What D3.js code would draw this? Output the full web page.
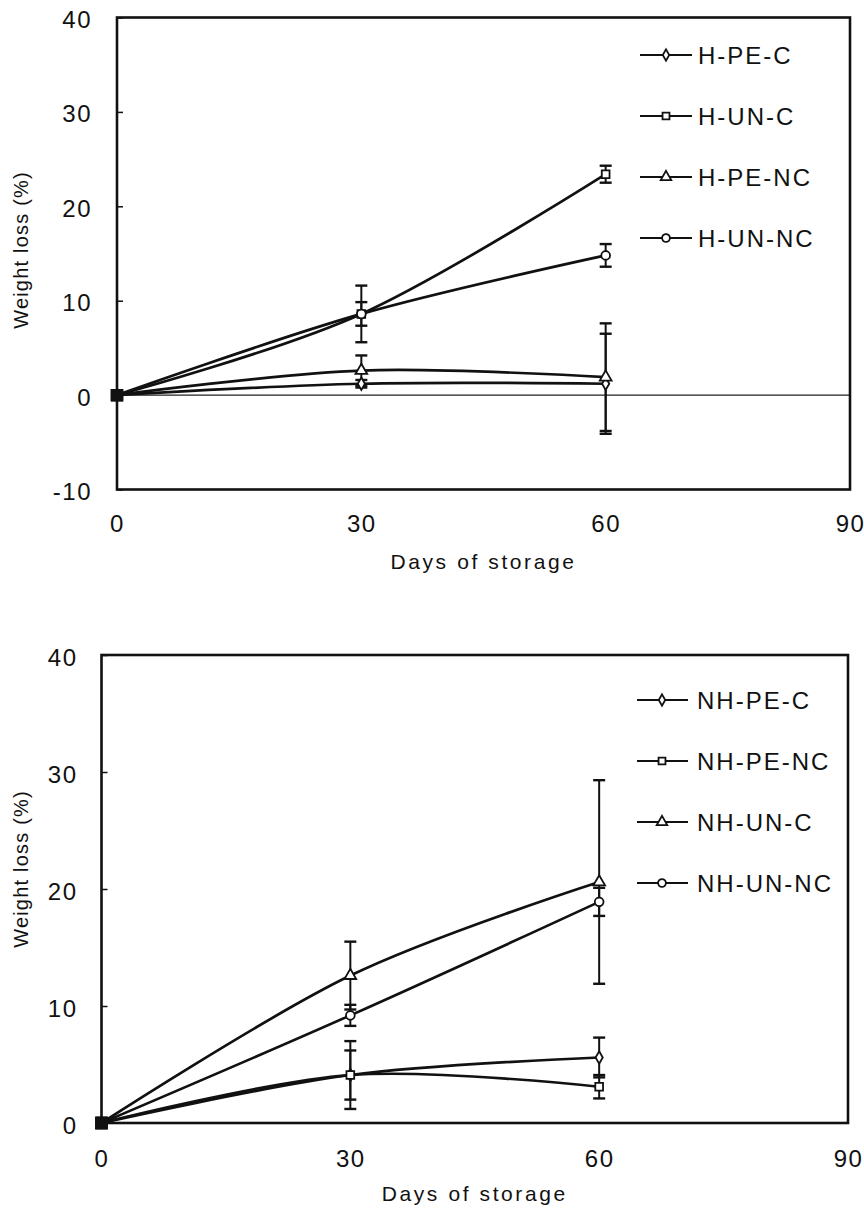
<!DOCTYPE html>
<html>
<head>
<meta charset="utf-8">
<script src="https://cdn.jsdelivr.net/npm/d3@7"></script>
<style>
  html, body { margin: 0; padding: 0; background: #fff; }
  svg { display: block; }
  text { font-family: "Liberation Sans", Arial, sans-serif; fill: #111; }
</style>
</head>
<body>
<svg id="chart" width="864" height="1210"></svg>
<script>
// ---- data ----
const days = [0, 30, 60];
const xTicks = [0, 30, 60, 90];
const yTicksTop = [-10, 0, 10, 20, 30, 40];
const yTicksBottom = [0, 10, 20, 30, 40];

// Hardened samples (weight loss %, mean and error)
const hNames = ["H-PE-C", "H-UN-C", "H-PE-NC", "H-UN-NC"];
const hPEC = [0, 1.2, 1.2],   hPECErr = [0, 0.4, 5.3];
const hUNC = [0, 8.6, 23.4],  hUNCErr = [0, 3.0, 0.9];
const hPENC = [0, 2.6, 1.9],  hPENCErr = [0, 1.6, 5.7];
const hUNNC = [0, 8.6, 14.8], hUNNCErr = [0, 1.25, 1.2];

// Non-hardened samples
const nhNames = ["NH-PE-C", "NH-PE-NC", "NH-UN-C", "NH-UN-NC"];
const nhPEC = [0, 4.1, 5.6],    nhPECErr = [0, 2.9, 1.7];
const nhPENC = [0, 4.1, 3.1],   nhPENCErr = [0, 2.1, 1.0];
const nhUNC = [0, 12.6, 20.6],  nhUNCErr = [0, 2.9, 8.7];
const nhUNNC = [0, 9.2, 18.9],  nhUNNCErr = [0, 0.9, 1.2];

const symbols = [d3.symbolDiamond, d3.symbolSquare, d3.symbolTriangle, d3.symbolCircle];
const symbolSizes = [45, 60, 60, 60];

// ---- layout ----
const panels = [
  {
    box: { left: 117, right: 850, top: 17.5, bottom: 489.5 },
    yDomain: [-10, 40], yTicks: yTicksTop, zeroLine: true,
    names: hNames,
    values: [hPEC, hUNC, hPENC, hUNNC],
    errors: [hPECErr, hUNCErr, hPENCErr, hUNNCErr],
    legend: { x0: 640, x1: 692, mx: 666, tx: 698, y: 55, step: 61 },
    yLabelPad: 25, xLabelDy: 33.5, xTitleY: 561, yTitleY: 250
  },
  {
    box: { left: 101.5, right: 848, top: 655, bottom: 1123 },
    yDomain: [0, 40], yTicks: yTicksBottom, zeroLine: false,
    names: nhNames,
    values: [nhPEC, nhPENC, nhUNC, nhUNNC],
    errors: [nhPECErr, nhPENCErr, nhUNCErr, nhUNNCErr],
    legend: { x0: 637, x1: 688, mx: 662, tx: 697, y: 700, step: 61 },
    yLabelPad: 24, xLabelDy: 35, xTitleY: 1193, yTitleY: 869
  }
];

const svg = d3.select("#chart");

panels.forEach(p => {
  const b = p.box;
  const x = d3.scaleLinear().domain([0, 90]).range([b.left, b.right]);
  const y = d3.scaleLinear().domain(p.yDomain).range([b.bottom, b.top]);
  const g = svg.append("g");

  // y axis: inward ticks, labels outside
  const yAxis = g.append("g")
    .attr("transform", `translate(${b.left},0)`)
    .call(d3.axisLeft(y).tickValues(p.yTicks).tickSizeInner(-6).tickSizeOuter(0)
      .tickPadding(p.yLabelPad).tickFormat(d => d < 0 ? "-" + Math.abs(d) : d));
  yAxis.select(".domain").remove();
  yAxis.selectAll("line").attr("stroke", "#111").attr("stroke-width", 1.5);
  yAxis.selectAll("text").attr("font-size", 24).attr("letter-spacing", 1.5)
    .attr("dy", "0.42em").attr("font-family", "Liberation Sans, Arial, sans-serif").attr("fill", "#111");

  // x axis labels
  const xAxis = g.append("g")
    .attr("transform", `translate(0,${b.bottom})`)
    .call(d3.axisBottom(x).tickValues(xTicks).tickSize(0).tickPadding(0));
  xAxis.select(".domain").remove();
  xAxis.selectAll("text").attr("font-size", 24).attr("letter-spacing", 1.5)
    .attr("y", p.xLabelDy).attr("dy", "0.36em")
    .attr("font-family", "Liberation Sans, Arial, sans-serif").attr("fill", "#111");

  // zero reference line
  if (p.zeroLine) {
    g.append("line")
      .attr("x1", b.left).attr("x2", b.right)
      .attr("y1", y(0)).attr("y2", y(0))
      .attr("stroke", "#222").attr("stroke-width", 1.3);
  }

  // series lines (smoothed)
  const line = d3.line()
    .x((d, i) => x(days[i]))
    .y(d => y(d))
    .curve(d3.curveCardinal.tension(0));

  p.values.forEach(vals => {
    g.append("path")
      .attr("d", line(vals))
      .attr("fill", "none")
      .attr("stroke", "#111")
      .attr("stroke-width", 2.7);
  });

  // error bars
  p.values.forEach((vals, s) => {
    vals.forEach((v, i) => {
      const e = p.errors[s][i];
      if (!e) return;
      const cx = x(days[i]);
      const eg = g.append("g").attr("stroke", "#111").attr("stroke-width", 2);
      eg.append("line").attr("x1", cx).attr("x2", cx).attr("y1", y(v - e)).attr("y2", y(v + e));
      [v - e, v + e].forEach(t => {
        eg.append("line").attr("x1", cx - 6).attr("x2", cx + 6).attr("y1", y(t)).attr("y2", y(t))
          .attr("stroke-width", 2.4);
      });
    });
  });

  // markers (the overlapping start points form a solid block)
  p.values.forEach((vals, s) => {
    vals.forEach((v, i) => {
      const start = i === 0;
      const sym = d3.symbol().type(start ? d3.symbolSquare : symbols[s])
        .size(start ? 110 : symbolSizes[s]);
      g.append("path")
        .attr("d", sym())
        .attr("transform", `translate(${x(days[i])},${y(v)})`)
        .attr("fill", start ? "#111" : "#fff")
        .attr("stroke", "#111")
        .attr("stroke-width", 1.8);
    });
  });

  // plot frame
  g.append("rect")
    .attr("x", b.left).attr("y", b.top)
    .attr("width", b.right - b.left).attr("height", b.bottom - b.top)
    .attr("fill", "none").attr("stroke", "#111").attr("stroke-width", 2.6);

  // legend
  const L = p.legend;
  p.names.forEach((name, s) => {
    const ly = L.y + s * L.step;
    const lg = g.append("g");
    lg.append("line").attr("x1", L.x0).attr("x2", L.x1).attr("y1", ly).attr("y2", ly)
      .attr("stroke", "#111").attr("stroke-width", 2.2);
    lg.append("path")
      .attr("d", d3.symbol().type(symbols[s]).size(symbolSizes[s] * 0.8)())
      .attr("transform", `translate(${L.mx},${ly})`)
      .attr("fill", "#fff").attr("stroke", "#111").attr("stroke-width", 1.8);
    lg.append("text")
      .attr("x", L.tx).attr("y", ly).attr("dy", "0.36em")
      .attr("font-size", 24).attr("letter-spacing", 2)
      .text(name);
  });

  // axis titles
  g.append("text")
    .attr("x", (b.left + b.right) / 2).attr("y", p.xTitleY).attr("dy", "0.36em")
    .attr("text-anchor", "middle").attr("font-size", 21).attr("letter-spacing", 2.6)
    .text("Days of storage");
  g.append("text")
    .attr("transform", `translate(21,${p.yTitleY}) rotate(-90)`)
    .attr("dy", "0.36em")
    .attr("text-anchor", "middle").attr("font-size", 20).attr("letter-spacing", 1.2)
    .text("Weight loss (%)");
});
</script>
</body>
</html>
